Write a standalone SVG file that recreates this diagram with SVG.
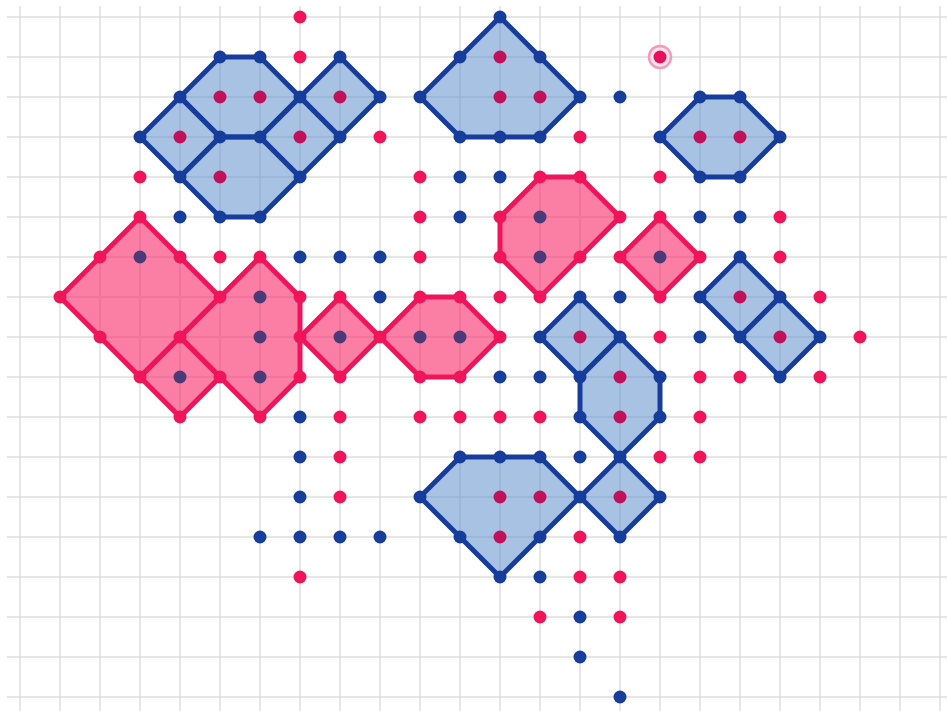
<svg xmlns="http://www.w3.org/2000/svg" width="947" height="711" viewBox="0 0 947 711">
<style>
.grid{stroke:#dedede;stroke-width:1.5;fill:none}
.bp{fill:#618fcc;fill-opacity:0.55;stroke:#163d9b;stroke-width:5;stroke-linejoin:round}
.pp{fill:#f82a69;fill-opacity:0.6;stroke:#f0145a;stroke-width:5;stroke-linejoin:round}
.bv{fill:#163d9b}
.pv{fill:#f0145a}
.bi{fill:#c0125a}
.pi{fill:#4b3a78}
</style>
<rect width="947" height="711" fill="#ffffff"/>
<g id="grid" class="grid">
<path d="M20 6V711M60 6V711M100 6V711M140 6V711M180 6V711M220 6V711M260 6V711M300 6V711M340 6V711M380 6V711M420 6V711M460 6V711M500 6V711M540 6V711M580 6V711M620 6V711M660 6V711M700 6V711M740 6V711M780 6V711M820 6V711M860 6V711M900 6V711M940 6V711"/>
<path d="M7 17H947M7 57H947M7 97H947M7 137H947M7 177H947M7 217H947M7 257H947M7 297H947M7 337H947M7 377H947M7 417H947M7 457H947M7 497H947M7 537H947M7 577H947M7 617H947M7 657H947M7 697H947"/>
</g>
<g id="connectors"></g>
<g id="blue-shapes">
<g id="B1"><polygon class="bp" points="220,57 260,57 300,97 260,137 220,137 180,97"/></g>
<g id="B2"><polygon class="bp" points="180,97 220,137 180,177 140,137"/></g>
<g id="B3"><polygon class="bp" points="220,137 260,137 300,177 260,217 220,217 180,177"/></g>
<g id="B4"><polygon class="bp" points="300,97 340,137 300,177 260,137"/></g>
<g id="B5"><polygon class="bp" points="340,57 380,97 340,137 300,97"/></g>
<g id="B6"><polygon class="bp" points="500,17 540,57 580,97 540,137 500,137 460,137 420,97 460,57"/></g>
<g id="B7"><polygon class="bp" points="700,97 740,97 780,137 740,177 700,177 660,137"/></g>
<g id="B8"><polygon class="bp" points="740,257 780,297 740,337 700,297"/></g>
<g id="B9"><polygon class="bp" points="780,297 820,337 780,377 740,337"/></g>
<g id="B10"><polygon class="bp" points="580,297 620,337 580,377 540,337"/></g>
<g id="B11"><polygon class="bp" points="620,337 660,377 660,417 620,457 580,417 580,377"/></g>
<g id="B12"><polygon class="bp" points="620,457 660,497 620,537 580,497"/></g>
<g id="B13"><polygon class="bp" points="460,457 500,457 540,457 580,497 540,537 500,577 460,537 420,497"/></g>
</g>
<g id="pink-shapes">
<g id="P1"><polygon class="pp" points="140,217 180,257 220,297 180,337 140,377 100,337 60,297 100,257"/></g>
<g id="P2"><polygon class="pp" points="180,337 220,377 180,417 140,377"/></g>
<g id="P3"><polygon class="pp" points="260,257 300,297 300,337 300,377 260,417 220,377 180,337 220,297"/></g>
<g id="P4"><polygon class="pp" points="340,297 380,337 340,377 300,337"/></g>
<g id="P5"><polygon class="pp" points="420,297 460,297 500,337 460,377 420,377 380,337"/></g>
<g id="P6"><polygon class="pp" points="540,177 580,177 620,217 580,257 540,297 500,257 500,217"/></g>
<g id="P7"><polygon class="pp" points="660,217 700,257 660,297 620,257"/></g>
</g>
<g id="interior-dots">
<g class="bi">
<circle cx="220" cy="97" r="6.5"/><circle cx="260" cy="97" r="6.5"/><circle cx="180" cy="137" r="6.5"/><circle cx="220" cy="177" r="6.5"/><circle cx="300" cy="137" r="6.5"/><circle cx="340" cy="97" r="6.5"/>
<circle cx="500" cy="57" r="6.5"/><circle cx="500" cy="97" r="6.5"/><circle cx="540" cy="97" r="6.5"/>
<circle cx="700" cy="137" r="6.5"/><circle cx="740" cy="137" r="6.5"/>
<circle cx="740" cy="297" r="6.5"/><circle cx="780" cy="337" r="6.5"/><circle cx="580" cy="337" r="6.5"/>
<circle cx="620" cy="377" r="6.5"/><circle cx="620" cy="417" r="6.5"/><circle cx="620" cy="497" r="6.5"/>
<circle cx="500" cy="497" r="6.5"/><circle cx="540" cy="497" r="6.5"/><circle cx="500" cy="537" r="6.5"/>
</g>
<g class="pi">
<circle cx="140" cy="257" r="6.5"/><circle cx="180" cy="377" r="6.5"/><circle cx="260" cy="297" r="6.5"/><circle cx="260" cy="337" r="6.5"/><circle cx="260" cy="377" r="6.5"/>
<circle cx="340" cy="337" r="6.5"/><circle cx="420" cy="337" r="6.5"/><circle cx="460" cy="337" r="6.5"/>
<circle cx="540" cy="217" r="6.5"/><circle cx="540" cy="257" r="6.5"/><circle cx="660" cy="257" r="6.5"/>
</g>
</g>
<g id="vertex-dots">
<g class="bv">
<circle cx="220" cy="57" r="6.5"/><circle cx="260" cy="57" r="6.5"/><circle cx="300" cy="97" r="6.5"/><circle cx="260" cy="137" r="6.5"/><circle cx="220" cy="137" r="6.5"/><circle cx="180" cy="97" r="6.5"/>
<circle cx="180" cy="177" r="6.5"/><circle cx="140" cy="137" r="6.5"/><circle cx="300" cy="177" r="6.5"/><circle cx="260" cy="217" r="6.5"/><circle cx="220" cy="217" r="6.5"/>
<circle cx="340" cy="137" r="6.5"/><circle cx="340" cy="57" r="6.5"/><circle cx="380" cy="97" r="6.5"/>
<circle cx="500" cy="17" r="6.5"/><circle cx="540" cy="57" r="6.5"/><circle cx="580" cy="97" r="6.5"/><circle cx="540" cy="137" r="6.5"/><circle cx="500" cy="137" r="6.5"/><circle cx="460" cy="137" r="6.5"/><circle cx="420" cy="97" r="6.5"/><circle cx="460" cy="57" r="6.5"/>
<circle cx="700" cy="97" r="6.5"/><circle cx="740" cy="97" r="6.5"/><circle cx="780" cy="137" r="6.5"/><circle cx="740" cy="177" r="6.5"/><circle cx="700" cy="177" r="6.5"/><circle cx="660" cy="137" r="6.5"/>
<circle cx="740" cy="257" r="6.5"/><circle cx="780" cy="297" r="6.5"/><circle cx="740" cy="337" r="6.5"/><circle cx="700" cy="297" r="6.5"/><circle cx="820" cy="337" r="6.5"/><circle cx="780" cy="377" r="6.5"/>
<circle cx="580" cy="297" r="6.5"/><circle cx="620" cy="337" r="6.5"/><circle cx="580" cy="377" r="6.5"/><circle cx="540" cy="337" r="6.5"/>
<circle cx="660" cy="377" r="6.5"/><circle cx="660" cy="417" r="6.5"/><circle cx="620" cy="457" r="6.5"/><circle cx="580" cy="417" r="6.5"/>
<circle cx="660" cy="497" r="6.5"/><circle cx="620" cy="537" r="6.5"/><circle cx="580" cy="497" r="6.5"/>
<circle cx="460" cy="457" r="6.5"/><circle cx="500" cy="457" r="6.5"/><circle cx="540" cy="457" r="6.5"/><circle cx="540" cy="537" r="6.5"/><circle cx="500" cy="577" r="6.5"/><circle cx="460" cy="537" r="6.5"/><circle cx="420" cy="497" r="6.5"/>
</g>
<g class="pv">
<circle cx="140" cy="217" r="6.5"/><circle cx="180" cy="257" r="6.5"/><circle cx="220" cy="297" r="6.5"/><circle cx="180" cy="337" r="6.5"/><circle cx="140" cy="377" r="6.5"/><circle cx="100" cy="337" r="6.5"/><circle cx="60" cy="297" r="6.5"/><circle cx="100" cy="257" r="6.5"/>
<circle cx="220" cy="377" r="6.5"/><circle cx="180" cy="417" r="6.5"/>
<circle cx="260" cy="257" r="6.5"/><circle cx="300" cy="297" r="6.5"/><circle cx="300" cy="337" r="6.5"/><circle cx="300" cy="377" r="6.5"/><circle cx="260" cy="417" r="6.5"/>
<circle cx="340" cy="297" r="6.5"/><circle cx="380" cy="337" r="6.5"/><circle cx="340" cy="377" r="6.5"/>
<circle cx="420" cy="297" r="6.5"/><circle cx="460" cy="297" r="6.5"/><circle cx="500" cy="337" r="6.5"/><circle cx="460" cy="377" r="6.5"/><circle cx="420" cy="377" r="6.5"/>
<circle cx="540" cy="177" r="6.5"/><circle cx="580" cy="177" r="6.5"/><circle cx="620" cy="217" r="6.5"/><circle cx="580" cy="257" r="6.5"/><circle cx="540" cy="297" r="6.5"/><circle cx="500" cy="257" r="6.5"/><circle cx="500" cy="217" r="6.5"/>
<circle cx="660" cy="217" r="6.5"/><circle cx="700" cy="257" r="6.5"/><circle cx="660" cy="297" r="6.5"/><circle cx="620" cy="257" r="6.5"/>
</g>
</g>
<g id="free-dots">
<g class="pv">
<circle cx="300" cy="17" r="6.5"/><circle cx="300" cy="57" r="6.5"/><circle cx="380" cy="137" r="6.5"/><circle cx="580" cy="137" r="6.5"/><circle cx="140" cy="177" r="6.5"/><circle cx="420" cy="177" r="6.5"/><circle cx="660" cy="177" r="6.5"/>
<circle cx="420" cy="217" r="6.5"/><circle cx="780" cy="217" r="6.5"/><circle cx="220" cy="257" r="6.5"/><circle cx="420" cy="257" r="6.5"/><circle cx="780" cy="257" r="6.5"/>
<circle cx="500" cy="297" r="6.5"/><circle cx="820" cy="297" r="6.5"/><circle cx="660" cy="337" r="6.5"/><circle cx="860" cy="337" r="6.5"/>
<circle cx="700" cy="377" r="6.5"/><circle cx="740" cy="377" r="6.5"/><circle cx="820" cy="377" r="6.5"/>
<circle cx="340" cy="417" r="6.5"/><circle cx="420" cy="417" r="6.5"/><circle cx="460" cy="417" r="6.5"/><circle cx="500" cy="417" r="6.5"/><circle cx="540" cy="417" r="6.5"/><circle cx="700" cy="417" r="6.5"/>
<circle cx="340" cy="457" r="6.5"/><circle cx="660" cy="457" r="6.5"/><circle cx="700" cy="457" r="6.5"/><circle cx="340" cy="497" r="6.5"/>
<circle cx="580" cy="537" r="6.5"/><circle cx="300" cy="577" r="6.5"/><circle cx="580" cy="577" r="6.5"/><circle cx="620" cy="577" r="6.5"/><circle cx="540" cy="617" r="6.5"/><circle cx="620" cy="617" r="6.5"/>
</g>
<g class="bv">
<circle cx="620" cy="97" r="6.5"/><circle cx="460" cy="177" r="6.5"/><circle cx="500" cy="177" r="6.5"/><circle cx="180" cy="217" r="6.5"/><circle cx="460" cy="217" r="6.5"/><circle cx="700" cy="217" r="6.5"/><circle cx="740" cy="217" r="6.5"/>
<circle cx="300" cy="257" r="6.5"/><circle cx="340" cy="257" r="6.5"/><circle cx="380" cy="257" r="6.5"/><circle cx="380" cy="297" r="6.5"/><circle cx="620" cy="297" r="6.5"/><circle cx="700" cy="337" r="6.5"/>
<circle cx="500" cy="377" r="6.5"/><circle cx="540" cy="377" r="6.5"/><circle cx="300" cy="417" r="6.5"/><circle cx="300" cy="457" r="6.5"/><circle cx="580" cy="457" r="6.5"/><circle cx="300" cy="497" r="6.5"/>
<circle cx="260" cy="537" r="6.5"/><circle cx="300" cy="537" r="6.5"/><circle cx="340" cy="537" r="6.5"/><circle cx="380" cy="537" r="6.5"/>
<circle cx="540" cy="577" r="6.5"/><circle cx="580" cy="617" r="6.5"/><circle cx="580" cy="657" r="6.5"/><circle cx="620" cy="697" r="6.5"/>
</g>
</g>
<g id="highlight">
<circle cx="660" cy="57" r="11" fill="#fde3ec" stroke="#f59abb" stroke-width="2.5"/>
<circle cx="660" cy="57" r="6.5" fill="#e8105a"/>
</g>
</svg>
